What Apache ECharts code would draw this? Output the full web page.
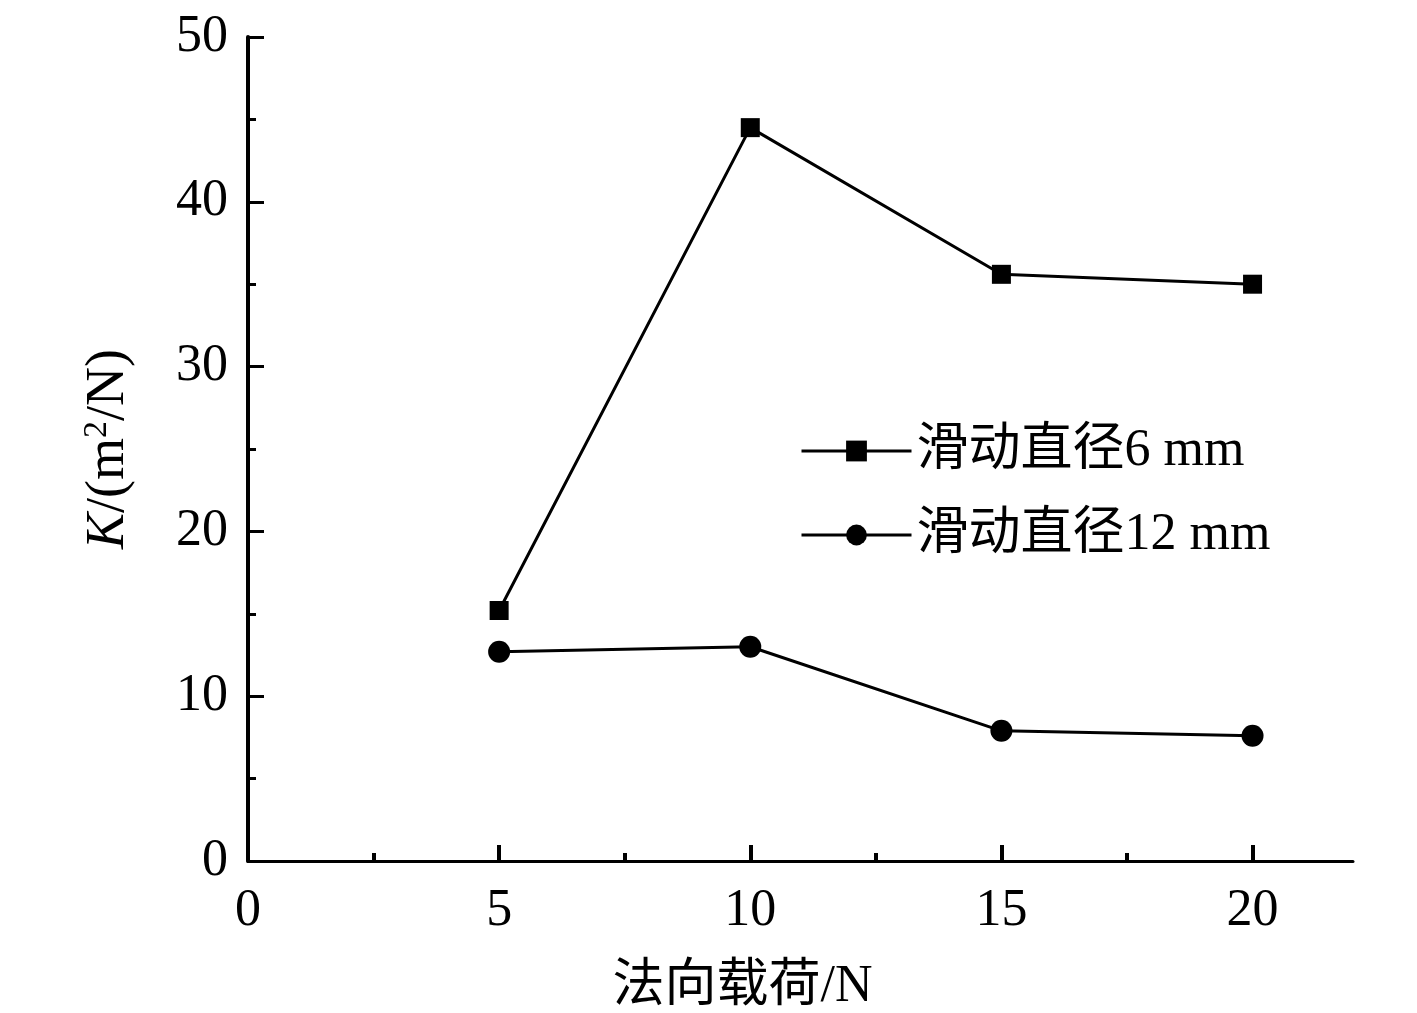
<!DOCTYPE html>
<html>
<head>
<meta charset="utf-8">
<script src="https://cdn.jsdelivr.net/npm/echarts@6/dist/echarts.min.js"></script>
<style>
  html, body { margin: 0; padding: 0; background: #fff; }
  #chart { width: 1417px; height: 1013px; }
</style>
</head>
<body>
<div id="chart"></div>
<script>
// 数据
const loads = [5, 10, 15, 20]
const k6mm = [15.2, 44.5, 35.6, 35.0]
const k12mm = [12.7, 13.0, 7.9, 7.6]
const seriesNames = ['滑动直径6 mm', '滑动直径12 mm']
const xMajorTicks = [0, 5, 10, 15, 20]
const xMinorTicks = [2.5, 7.5, 12.5, 17.5]

const FONT = '"Liberation Serif", "Noto Sans CJK SC", serif'

const pairs = (xs, ys) => xs.map((x, i) => [x, ys[i]])

const chart = echarts.init(document.getElementById('chart'))
chart.setOption({
    animation: false,
    backgroundColor: '#fff',
    textStyle: { fontFamily: FONT, color: '#000' },
    grid: {
        left: 248,
        right: 64,
        top: 37,
        bottom: 152,
        outerBoundsMode: 'none',
    },
    legend: {
        orient: 'vertical',
        left: 795,
        top: 420,
        itemWidth: 110,
        itemHeight: 26,
        itemGap: 32,
        lineStyle: { width: 3 },
        textStyle: {
            fontFamily: FONT,
            fontSize: 52,
            color: '#000',
        },
        data: seriesNames,
    },
    xAxis: [
        {
            type: 'value',
            min: 0,
            max: 22,
            name: '法向载荷/N',
            nameLocation: 'middle',
            nameGap: 100,
            nameTextStyle: {
                fontFamily: FONT,
                fontSize: 52,
                color: '#000',
                padding: [0, 116, 0, 0],
            },
            axisLine: { show: true, lineStyle: { color: '#000', width: 3 } },
            axisTick: {
                show: true,
                inside: true,
                length: 16,
                lineStyle: { color: '#000', width: 4 },
                customValues: xMajorTicks,
            },
            axisLabel: {
                fontFamily: FONT,
                fontSize: 52,
                color: '#000',
                margin: 24,
                customValues: xMajorTicks,
            },
            splitLine: { show: false },
        },
        {
            // 次刻度
            type: 'value',
            min: 0,
            max: 22,
            position: 'bottom',
            axisLine: { show: false },
            axisTick: {
                show: true,
                inside: true,
                length: 8,
                lineStyle: { color: '#000', width: 4 },
                customValues: xMinorTicks,
            },
            axisLabel: { show: false },
            splitLine: { show: false },
        },
    ],
    yAxis: {
        type: 'value',
        min: 0,
        max: 50,
        interval: 10,
        name: '{i|K}{t|/(m}{s|2}{t|/N)}',
        nameLocation: 'middle',
        nameGap: 112,
        nameTextStyle: {
            fontFamily: FONT,
            fontSize: 54,
            color: '#000',
            rich: {
                i: { fontFamily: FONT, fontSize: 54, fontStyle: 'italic', color: '#000', lineHeight: 60, verticalAlign: 'bottom' },
                t: { fontFamily: FONT, fontSize: 54, color: '#000', lineHeight: 60, verticalAlign: 'bottom' },
                s: { fontFamily: FONT, fontSize: 34, color: '#000', lineHeight: 60, verticalAlign: 'top', padding: [4, 0, 0, 0] },
            },
        },
        axisLine: { show: true, lineStyle: { color: '#000', width: 4 } },
        axisTick: {
            show: true,
            inside: true,
            length: 16,
            lineStyle: { color: '#000', width: 3 },
        },
        minorTick: {
            show: true,
            splitNumber: 2,
            length: 8,
            lineStyle: { color: '#000', width: 3 },
        },
        axisLabel: {
            fontFamily: FONT,
            fontSize: 52,
            color: '#000',
            margin: 20,
        },
        splitLine: { show: false },
    },
    series: [
        {
            name: seriesNames[0],
            type: 'line',
            symbol: 'rect',
            symbolSize: 19,
            lineStyle: { color: '#000', width: 3 },
            itemStyle: { color: '#000' },
            data: pairs(loads, k6mm),
        },
        {
            name: seriesNames[1],
            type: 'line',
            symbol: 'circle',
            symbolSize: 22,
            lineStyle: { color: '#000', width: 3 },
            itemStyle: { color: '#000' },
            data: pairs(loads, k12mm),
        },
    ],
})
</script>
</body>
</html>
